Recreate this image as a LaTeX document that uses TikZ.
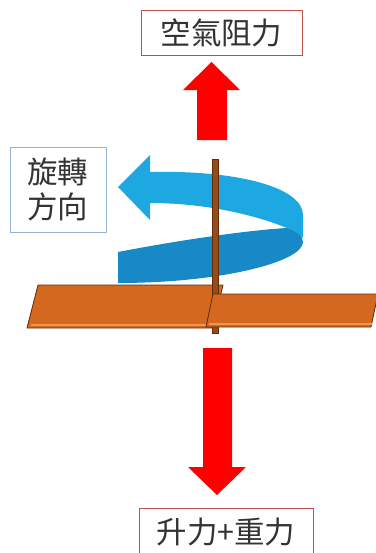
\documentclass[tikz,border=0pt]{standalone}
\usepackage{fontspec}
\usepackage{xcolor}
\usepackage{tikz}
\newfontfamily\cjk{Noto Sans CJK TC}

\definecolor{arrowred}{RGB}{255,0,0}
\definecolor{boxred}{RGB}{192,80,77}
\definecolor{boxblue}{RGB}{149,179,215}
\definecolor{ribbonlight}{RGB}{30,168,226}
\definecolor{ribbondark}{RGB}{22,137,198}
\definecolor{bladeorange}{RGB}{212,104,30}
\definecolor{bladeedge}{RGB}{95,45,10}
\definecolor{bladelight}{RGB}{238,150,80}
\definecolor{shaftbrown}{RGB}{150,76,22}

\tikzset{
  label/.style={font=\cjk\fontsize{26}{30}\selectfont, text=black!80, inner sep=0pt},
  redbox/.style={draw=boxred, line width=0.8pt},
  bluebox/.style={draw=boxblue, line width=0.8pt},
  force/.style={fill=arrowred, draw=none},
  blade/.style={fill=bladeorange, draw=bladeedge, line width=0.7pt, line join=round},
  bevel/.style={draw=bladelight, line width=1pt}
}

\begin{document}
\begin{tikzpicture}[x=0.03cm, y=-0.03cm]
\useasboundingbox (0,0) rectangle (376,553);

\node[label, redbox, minimum width=4.83cm, minimum height=1.35cm] (drag) at (221.5,32.5) {空氣阻力};
\node[label, bluebox, minimum width=2.88cm, minimum height=2.55cm, align=center] (spin) at (58,189.5) {旋轉\\方向};
\node[label] (lift) at (226,532) {升力+重力};
\draw[redbox] (139,560) |- (313,508) -- (313,560);

\fill[force] (197,140) -- (197,90) -- (183,90) -- (211.5,62) -- (240,90) -- (227,90) -- (227,140) -- cycle;
\fill[force] (203,348) -- (232,348) -- (232,467) -- (246,467) -- (217,495) -- (188,467) -- (203,467) -- cycle;

\fill[ribbondark] (118,252) .. controls (180,240) and (250,230) .. (287,228)
  .. controls (296,230) and (303,235) .. (303,242)
  .. controls (303,262) and (220,283) .. (118,283) -- cycle;
\fill[ribbonlight] (150,172) .. controls (240,170) and (303,188) .. (303,215)
  -- (303,238) .. controls (299,233) and (293,230) .. (287,228)
  .. controls (250,213) and (200,203) .. (150,203) -- cycle;
\fill[ribbonlight] (150,155) -- (118,187) -- (150,220) -- cycle;

\draw[blade] (38,285) -- (223,285) -- (213,328) -- (27,328) -- cycle;
\draw[bevel] (31,325) -- (211,325);
\fill[shaftbrown, draw=bladeedge, line width=0.4pt] (212,159) rectangle (218,333);
\draw[blade] (213,294) -- (378,294) -- (371,327) -- (206,327) -- cycle;
\draw[bevel] (209,324) -- (372,324);
\end{tikzpicture}
\end{document}
